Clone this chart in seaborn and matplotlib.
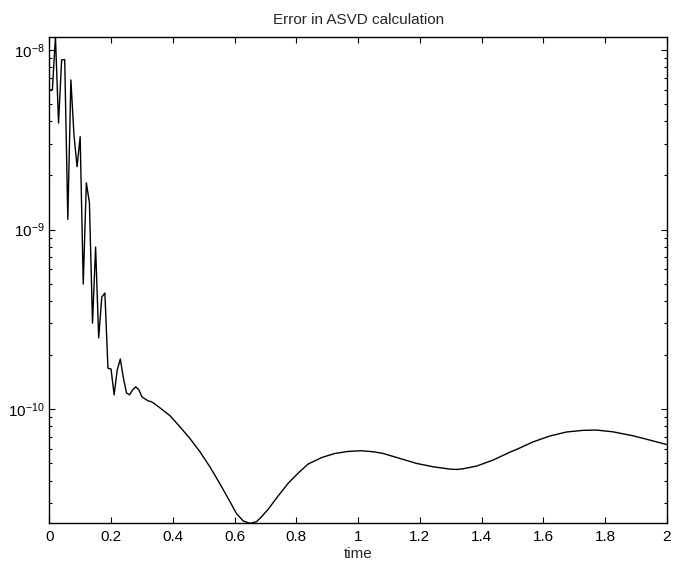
import numpy as np
import pandas as pd
import matplotlib
matplotlib.use("Agg")
import matplotlib.pyplot as plt
import seaborn as sns
from matplotlib.ticker import LogLocator, FixedLocator, NullFormatter

# ---- data ----
time = [0.00, 0.01, 0.02, 0.03, 0.04, 0.05, 0.06, 0.07, 0.08, 0.09,
        0.10, 0.11, 0.12, 0.13, 0.14, 0.15, 0.16, 0.17, 0.18, 0.19,
        0.20, 0.21, 0.22, 0.23, 0.24, 0.25, 0.26, 0.27, 0.28, 0.29,
        0.30, 0.31, 0.32, 0.33,
        0.34, 0.358, 0.391, 0.423, 0.455, 0.488, 0.520, 0.552, 0.585, 0.606,
        0.628, 0.650, 0.671, 0.687, 0.709, 0.741, 0.774, 0.806, 0.838, 0.882,
        0.925, 0.968, 1.010, 1.050, 1.081, 1.135, 1.189, 1.243, 1.297, 1.320,
        1.340, 1.383, 1.437, 1.491, 1.513, 1.567, 1.620, 1.674, 1.728, 1.771,
        1.825, 1.890, 1.944, 2.000]
error = [5.99e-9, 5.99e-9, 1.186e-8, 3.92e-9, 8.80e-9, 8.85e-9, 1.14e-9, 6.81e-9, 3.36e-9, 2.24e-9,
         3.29e-9, 4.97e-10, 1.82e-9, 1.41e-9, 3.01e-10, 7.99e-10, 2.49e-10, 4.21e-10, 4.43e-10, 1.69e-10,
         1.67e-10, 1.20e-10, 1.65e-10, 1.90e-10, 1.49e-10, 1.23e-10, 1.20e-10, 1.28e-10, 1.33e-10, 1.28e-10,
         1.17e-10, 1.14e-10, 1.11e-10, 1.10e-10,
         1.073e-10, 1.017e-10, 9.18e-11, 7.97e-11, 6.87e-11, 5.78e-11, 4.77e-11, 3.85e-11, 3.05e-11, 2.62e-11,
         2.38e-11, 2.31e-11, 2.36e-11, 2.51e-11, 2.77e-11, 3.28e-11, 3.87e-11, 4.40e-11, 4.94e-11, 5.37e-11,
         5.66e-11, 5.81e-11, 5.86e-11, 5.78e-11, 5.66e-11, 5.31e-11, 4.98e-11, 4.77e-11, 4.63e-11, 4.61e-11,
         4.65e-11, 4.81e-11, 5.20e-11, 5.75e-11, 5.96e-11, 6.57e-11, 7.07e-11, 7.45e-11, 7.61e-11, 7.64e-11,
         7.47e-11, 7.10e-11, 6.72e-11, 6.34e-11]
x_ticks = [0, 0.2, 0.4, 0.6, 0.8, 1.0, 1.2, 1.4, 1.6, 1.8, 2.0]
x_tick_labels = ["0", "0.2", "0.4", "0.6", "0.8", "1", "1.2", "1.4", "1.6", "1.8", "2"]
y_ticks = [1e-10, 1e-9, 1e-8]

df = pd.DataFrame({"time": time, "error": error})

sns.set_style("ticks")
plt.rcParams["font.family"] = ["Liberation Sans", "DejaVu Sans"]
plt.rcParams["mathtext.fontset"] = "custom"
plt.rcParams["mathtext.rm"] = "Liberation Sans"
plt.rcParams["mathtext.it"] = "Liberation Sans:italic"
plt.rcParams["mathtext.bf"] = "Liberation Sans:bold"

fig = plt.figure(figsize=(6.74, 5.70), dpi=100)
ax = fig.add_axes([0.0731, 0.0819, 0.9165, 0.8537])

sns.lineplot(data=df, x="time", y="error", ax=ax, color="black", linewidth=1.0,
             estimator=None, sort=False)

ax.set_yscale("log")
ax.set_xlim(0, 2)
ax.set_ylim(min(error), max(error))

ax.xaxis.set_major_locator(FixedLocator(x_ticks))
ax.set_xticklabels(x_tick_labels)
ax.yaxis.set_major_locator(FixedLocator(y_ticks))
ax.yaxis.set_minor_locator(LogLocator(base=10, subs=np.arange(2, 10)))
ax.yaxis.set_minor_formatter(NullFormatter())

ax.tick_params(which="both", direction="in", top=True, right=True,
               labelsize=11, colors="black")
ax.tick_params(which="major", length=4, width=0.8, pad=5)
ax.tick_params(which="minor", length=2, width=0.8)
ax.tick_params(axis="y", which="major", pad=3)

for s in ax.spines.values():
    s.set_visible(True)
    s.set_linewidth(1.0)
    s.set_color("black")

ax.set_title("Error in ASVD calculation", fontsize=11, pad=9)
ax.set_xlabel("time", fontsize=11, labelpad=2)
ax.set_ylabel("")

fig.savefig("out.png", dpi=100)
